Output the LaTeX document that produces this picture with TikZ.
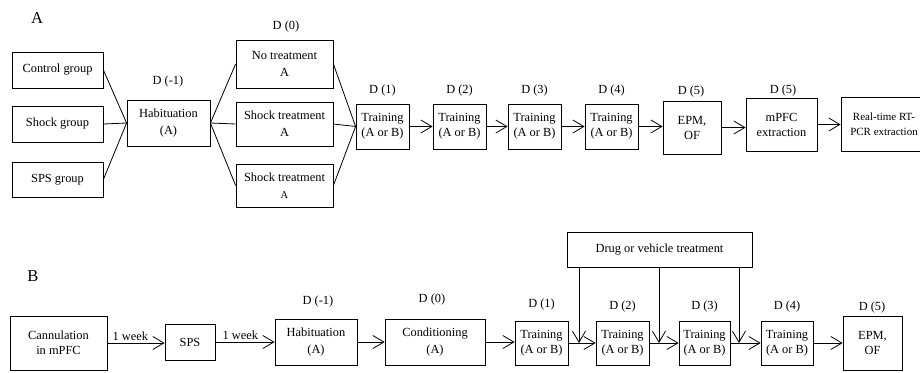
\documentclass[tikz,border=0pt]{standalone}
\usepackage{fontspec}
\setmainfont{Liberation Serif}
\usetikzlibrary{arrows.meta}
\newcommand\smallA{{\fontsize{10.5}{12}\selectfont A}}

\begin{document}
\begin{tikzpicture}[x=1pt,y=-1pt,
  font=\fontsize{12.4}{15}\selectfont,
  line width=0.8pt,
  >={Straight Barb[length=11pt,width=13pt]},
  box/.style 2 args={draw,align=center,inner sep=0pt,minimum width=#1pt,minimum height=#2pt},
  dlab/.style={inner sep=0pt},
  panel/.style={font=\fontsize{16.6}{18}\selectfont}]
\useasboundingbox (0,0) rectangle (920,372);
\clip (0,0) rectangle (920,372);

% Panel A
\node[panel] (labA) at (37,18) {A};

% Groups
\node[box={91}{36}] (ctrl) at (57.5,70) {Control group};
\node[box={91}{36}] (shockg) at (57.5,124) {Shock group};
\node[box={91}{35}] (spsg) at (57.5,179.5) {SPS group};

% Habituation and treatment
\node[box={83}{46}] (habA) at (168.5,123) {Habituation\\[2pt](A)};
\node[dlab] (dAm1) at (168,82) {D (-1)};
\node[box={97}{48}] (notreat) at (284.5,64) {No treatment\\[2pt]A};
\node[box={97}{44}] (shocktA) at (284.5,124) {Shock treatment\\[2pt]A};
\node[box={97}{43}] (shocktB) at (284.5,185.5) {Shock treatment\\[2pt]\smallA};
\node[dlab] (dA0) at (286,27) {D (0)};

% Training days
\foreach \n/\x in {1/382.5,2/459.5,3/534.5,4/611.5} {
  \node[box={53}{45}] (trA\n) at (\x,126.5) {Training\\(A or B)};
  \node[dlab] (dA\n) at (\x,91) {D (\n)};
}

% Tests
\node[box={58}{53}] (epmA) at (692,127.5) {EPM,\\OF};
\node[dlab] (dA5) at (691,92) {D (5)};
\node[box={71}{53}] (mpfc) at (781.5,124.5) {mPFC\\extraction};
\node[dlab] (dA6) at (783,91) {D (5)};
\node[box={94}{54}] (rtpcr) at (888,124) {};
\node[font=\fontsize{11}{15}\selectfont,align=center,inner sep=0pt] (rttext) at (884,124) {Real-time RT-\\PCR extraction};

% Connectors A
\foreach \g in {ctrl,shockg,spsg}
  \draw (\g.east) -- (habA.west);
\foreach \t in {notreat,shocktA,shocktB} {
  \draw (habA.east) -- (\t.west);
  \draw (\t.east) -- (trA1.west);
}
\foreach \a/\b in {trA1/trA2,trA2/trA3,trA3/trA4,trA4/epmA,epmA/mpfc,mpfc/rtpcr}
  \draw[->] (\a) -- (\a -| \b.west);

% Panel B
\node[panel] (labB) at (33,276) {B};

\node[box={97}{54}] (cann) at (58.5,343) {Cannulation\\in mPFC};
\node[box={50}{36}] (spsB) at (190,342) {SPS};
\node[box={82}{46}] (habB) at (316,342) {Habituation\\[2pt](A)};
\node[dlab] (dBm1) at (318,302) {D (-1)};
\node[box={100}{46}] (cond) at (435,342) {Conditioning\\[2pt](A)};
\node[dlab] (dB0) at (432,300) {D (0)};

\foreach \n/\x/\w/\d in {1/541.5/53/305,2/622.5/53/307,3/704.5/51/307,4/787/52/307} {
  \node[box={\w}{44}] (trB\n) at (\x,343) {Training\\(A or B)};
  \node[dlab] (dB\n) at (\x,\d) {D (\n)};
}
\node[box={59}{54}] (epmB) at (872.5,343) {EPM,\\OF};
\node[dlab] (dB5) at (872,308) {D (5)};

% Drug treatment
\node[box={185}{35}] (drug) at (659.5,249.5) {Drug or vehicle treatment};
\coordinate (in1) at (579,343);
\coordinate (in2) at (659,343);
\coordinate (in3) at (739,343);
\foreach \i in {in1,in2,in3}
  \draw[->] (drug.south -| \i) -- (\i);

% Connectors B
\draw[->] (cann) -- (cann -| spsB.west) node[pos=0.4,above,inner sep=1.5pt] {1 week};
\draw[->] (spsB) -- (spsB -| habB.west) node[pos=0.42,above,inner sep=1.5pt] {1 week};
\foreach \a/\b in {habB/cond,cond/trB1,trB1/trB2,trB2/trB3,trB3/trB4,trB4/epmB}
  \draw[->] (\a) -- (\a -| \b.west);
\end{tikzpicture}
\end{document}
